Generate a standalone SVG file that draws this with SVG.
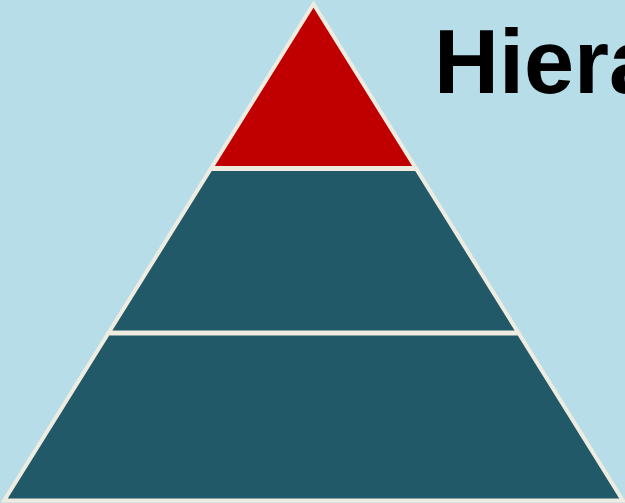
<svg xmlns="http://www.w3.org/2000/svg" width="625" height="503" viewBox="0 0 625 503">
<style>
.tier{stroke:#eeece1;stroke-width:4;stroke-linejoin:miter}
.top{fill:#c00000}
.mid{fill:#215968}
.title{font-family:"Liberation Sans",Arial,sans-serif;font-weight:bold;font-size:90px;fill:#000}
</style>
<rect width="625" height="503" fill="#b7dde8"/>
<g id="tier-top"><polygon class="tier top" points="313.5,4 211.3,168 415.7,168"/></g>
<g id="tier-middle"><polygon class="tier mid" points="210.7,169 416.3,169 518.2,332.5 108.8,332.5"/></g>
<g id="tier-bottom"><polygon class="tier mid" points="108.2,333.5 518.8,333.5 622.8,500.5 4.2,500.5"/></g>
<g id="title"><text class="title" x="434" y="93">Hiera</text></g>
</svg>
